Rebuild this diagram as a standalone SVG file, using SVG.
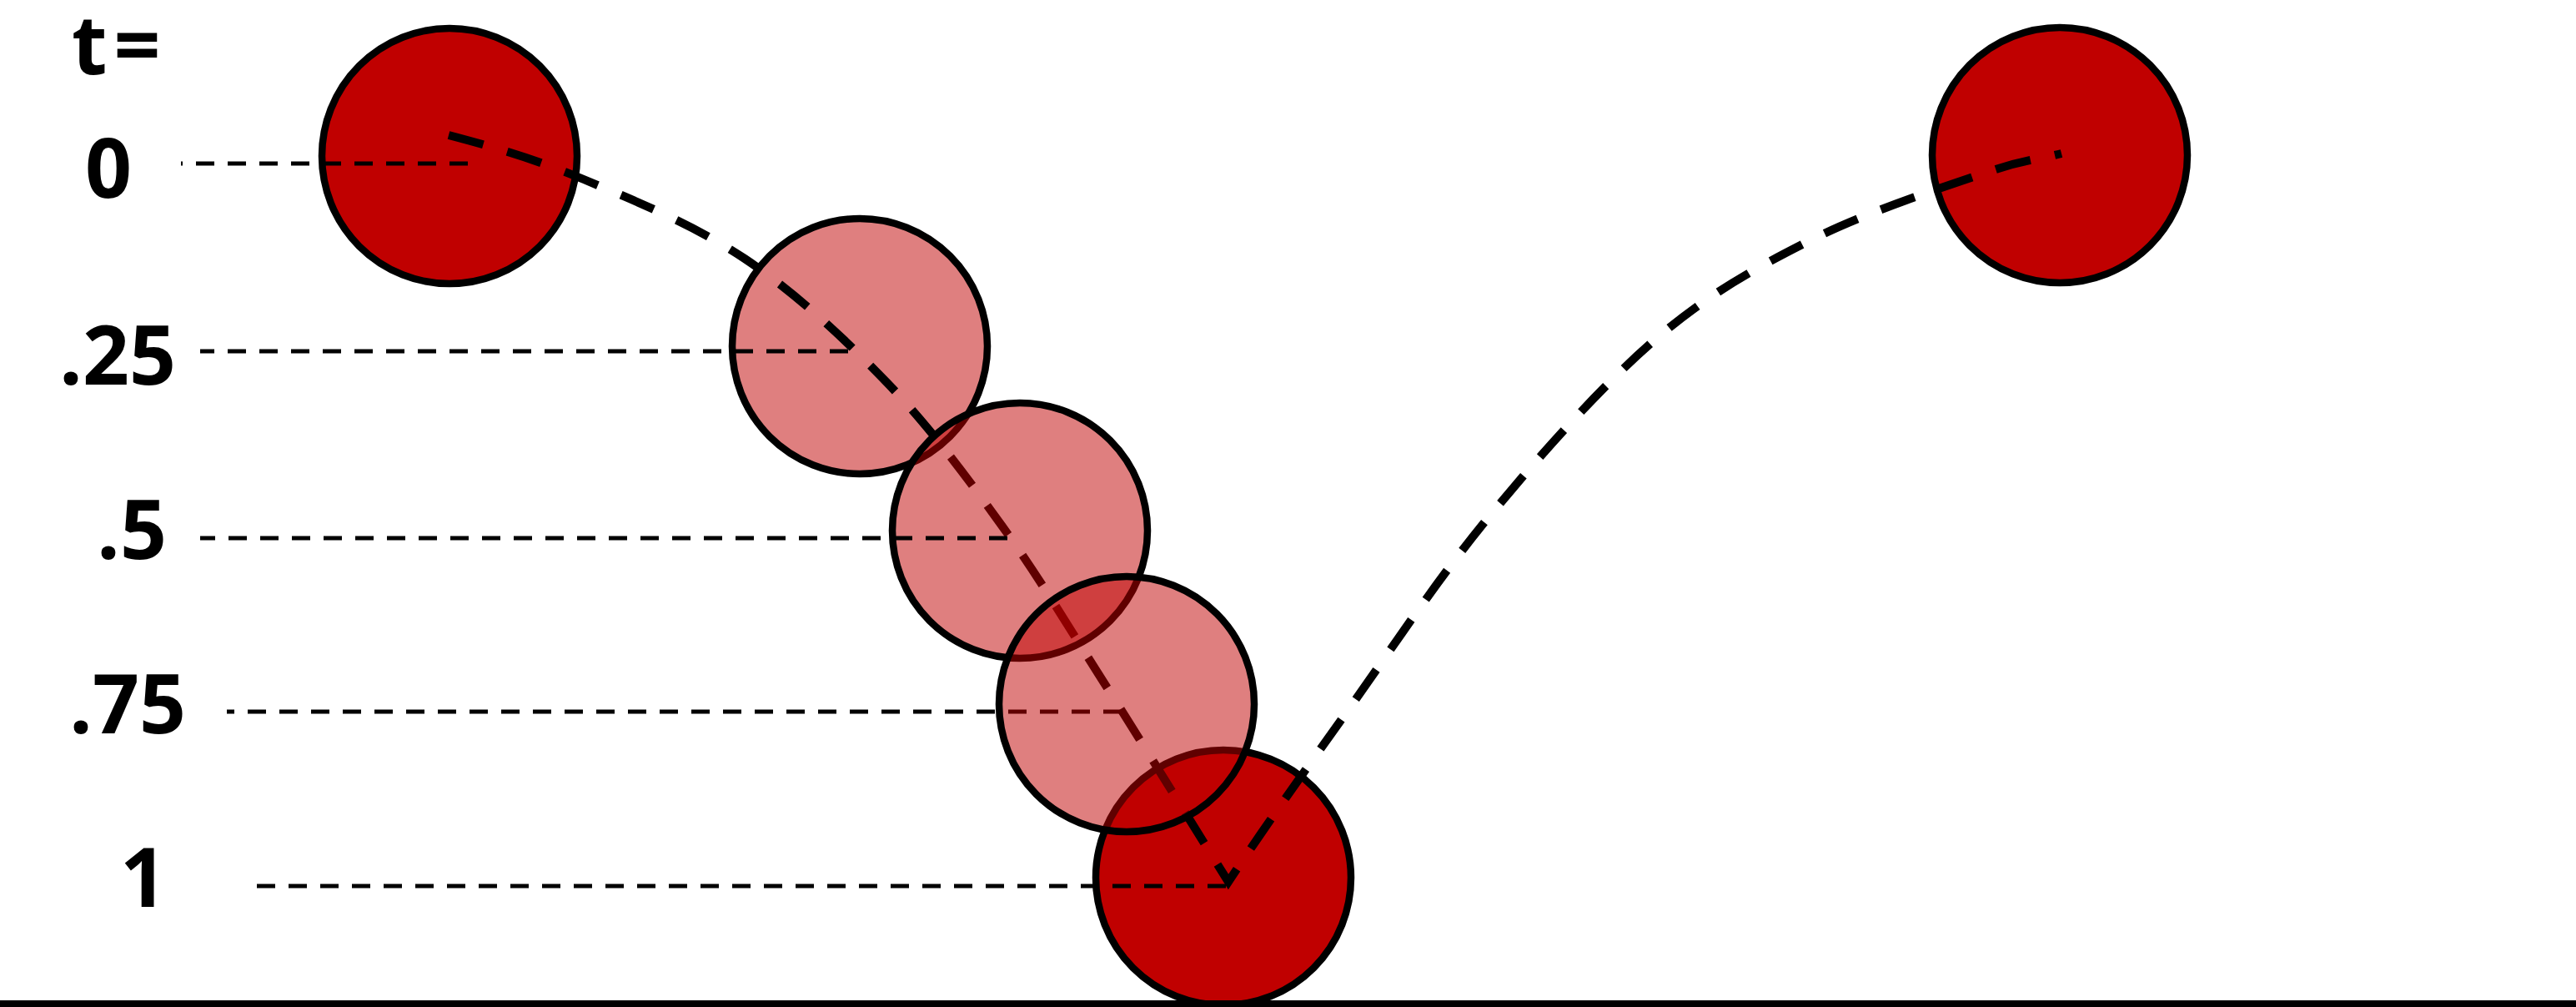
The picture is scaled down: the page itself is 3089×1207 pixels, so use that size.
<svg xmlns="http://www.w3.org/2000/svg" width="3089" height="1207" viewBox="0 0 3089 1207">
<style>
.ball{fill:#C00000;stroke:#000;stroke-width:8.5}
.ghost{fill:#C00000;fill-opacity:0.5;stroke:#000;stroke-width:8.5}
.traj{fill:none;stroke:#000;stroke-width:10;stroke-dasharray:43 30}
.tick{fill:none;stroke:#000;stroke-width:5;stroke-dasharray:22 16}
.lbl{font-family:"Open Sans","Noto Sans","Liberation Sans",sans-serif;font-weight:700;font-size:98px;fill:#000}
</style>
<rect width="3089" height="1207" fill="#fff"/>
<g id="labels">
<text class="lbl" x="86" y="89" letter-spacing="8">t=</text>
<text class="lbl" x="102" y="237">0</text>
<text class="lbl" x="71" y="461">.25</text>
<text class="lbl" x="116" y="670">.5</text>
<text class="lbl" x="83" y="879">.75</text>
<text class="lbl" x="144" y="1087">1</text>
</g>
<g id="ball-t0"><circle class="ball" cx="539" cy="187" r="153"/></g>
<g id="ball-t1"><circle class="ball" cx="1467" cy="1052" r="153"/></g>
<g id="ball-end"><circle class="ball" cx="2470" cy="186" r="153"/></g>
<g id="ball-t025"><circle class="ghost" cx="1031" cy="415" r="153"/></g>
<g id="connectors">
<path class="traj" d="M538,162 C591,176 640.8,190.3 700,215 C759.2,239.7 832.3,269.3 893,310 C953.7,350.7 1012.5,405.5 1064,459 C1115.5,512.5 1158.8,571.3 1202,631 C1245.2,690.7 1277.8,746 1323,817 C1368.2,888 1423,977 1473,1057 C1517,990.6 1559,931.8 1611,859 C1663,786.2 1722.5,695.5 1785,620 C1847.5,544.5 1921.3,461.5 1986,406 C2050.7,350.5 2107.7,320 2173,287 C2238.3,254 2328.2,225.2 2378,208 C2427.8,190.8 2440.7,192 2472,184"/>
<path class="tick" d="M561,196 H217"/>
<path class="tick" d="M1017,421 H240"/>
<path class="tick" d="M1470,1062 H292"/>
</g>
<g id="ball-t05"><circle class="ghost" cx="1223" cy="636" r="153"/></g>
<g id="connectors-2">
<path class="tick" d="M1208,645 H240"/>
<path class="tick" d="M1345,853 H272"/>
</g>
<g id="ball-t075"><circle class="ghost" cx="1351" cy="844" r="153"/></g>
<g id="ground"><line x1="0" y1="1203" x2="3089" y2="1203" stroke="#000" stroke-width="8"/></g>
</svg>
